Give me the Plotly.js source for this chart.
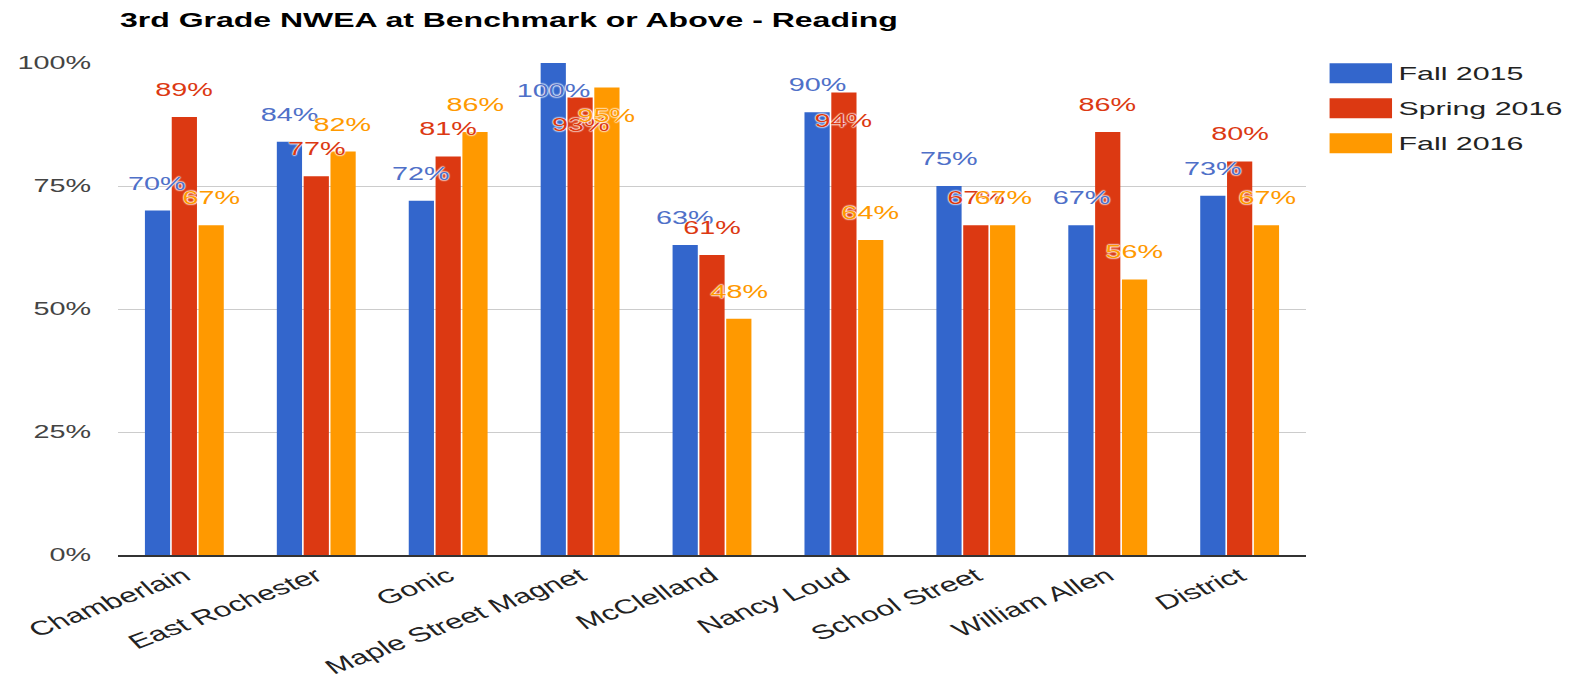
<!DOCTYPE html>
<html>
<head>
<meta charset="utf-8">
<script src="https://cdn.plot.ly/plotly-3.0.1.min.js"></script>
<style>
  html, body { margin: 0; padding: 0; background: #fff; overflow: hidden; }
  #wrap { width: 1581px; height: 688px; overflow: hidden; }
  /* the reference image is horizontally stretched; reproduce that */
  #chart { width: 988px; height: 688px; transform: scaleX(1.6); transform-origin: 0 0; }
</style>
</head>
<body>
<div id="wrap"><div id="chart"></div></div>
<script>
const categories = ['Chamberlain', 'East Rochester', 'Gonic', 'Maple Street Magnet', 'McClelland',
                    'Nancy Loud', 'School Street', 'William Allen', 'District'];
const seriesNames = ['Fall 2015', 'Spring 2016', 'Fall 2016'];
const fall2015   = [0.70, 0.84, 0.72, 1.00, 0.63, 0.90, 0.75, 0.67, 0.73];
const spring2016 = [0.89, 0.77, 0.81, 0.93, 0.61, 0.94, 0.67, 0.86, 0.80];
const fall2016   = [0.67, 0.82, 0.86, 0.95, 0.48, 0.64, 0.67, 0.56, 0.67];
const yTickVals = [0, 0.25, 0.5, 0.75, 1];
const yTickText = ['0%', '25%', '50%', '75%', '100%'];
const titleText = '3rd Grade NWEA at Benchmark or Above - Reading';

const seriesValues = [fall2015, spring2016, fall2016];
const colors = ['#3366cc', '#dc3912', '#ff9900'];
const labelColors = ['#4f70c8', '#dc3912', '#ff9900'];
const FONT = 'Liberation Sans, Arial, sans-serif';

const W = 988, H = 688;
const margin = {l: 74, r: 172, t: 63, b: 133};
const bargap = 0.39, bargroupgap = 0.06;
const plotW = W - margin.l - margin.r;
const plotH = H - margin.t - margin.b;
const slot = (plotW / categories.length) * (1 - bargap) / seriesNames.length;
const labelAbove = 27;   // px from bar top to label centre when above
const labelInside = -28; // px when there is no room above the bar

const traces = seriesValues.map((vals, s) => ({
  type: 'bar',
  name: seriesNames[s],
  x: categories,
  y: vals,
  marker: {color: colors[s], line: {width: 0}},
  hoverinfo: 'none',
  showlegend: false
}));

const annotations = [];
seriesValues.forEach((vals, s) => {
  vals.forEach((v, i) => {
    const room = (1 - v) * plotH;
    annotations.push({
      x: categories[i], y: v, xref: 'x', yref: 'y',
      text: Math.round(v * 100) + '%',
      showarrow: false, yanchor: 'middle', xanchor: 'center',
      xshift: (s - 1) * slot, yshift: room < 36 ? labelInside : labelAbove,
      font: {family: FONT, size: 18, color: labelColors[s],
             shadow: '0px 0px 2px #fff, 0px 0px 2px #fff, 0px 0px 2px #fff, 0px 0px 1px #fff'}
    });
  });
});

// custom legend (large swatches as in the reference)
const shapes = [];
const legX0 = 1.0202, legX1 = 1.0728, legTextX = 1.075;
const legRows = [0.979, 0.908, 0.837];
const swH = 0.0406;
seriesNames.forEach((n, s) => {
  shapes.push({type: 'rect', xref: 'paper', yref: 'paper',
    x0: legX0, x1: legX1, y0: legRows[s] - swH / 2, y1: legRows[s] + swH / 2,
    fillcolor: colors[s], line: {width: 0}});
  annotations.push({xref: 'paper', yref: 'paper', x: legTextX, y: legRows[s],
    xanchor: 'left', yanchor: 'middle', showarrow: false, text: n,
    font: {family: FONT, size: 19, color: '#222'}});
});

const layout = {
  width: W, height: H,
  margin: margin,
  paper_bgcolor: '#fff', plot_bgcolor: '#fff',
  title: {text: '<b>' + titleText + '</b>', xref: 'container', x: 75 / W, xanchor: 'left',
          yref: 'container', y: 1 - 20 / H, yanchor: 'middle',
          font: {family: FONT, size: 20, color: '#000'}},
  barmode: 'group', bargap: bargap, bargroupgap: bargroupgap,
  xaxis: {type: 'category', tickangle: -31, showgrid: false, zeroline: false,
          showline: true, linecolor: '#333', linewidth: 1.5, ticks: '',
          tickfont: {family: FONT, size: 20, color: '#222'}},
  yaxis: {range: [0, 1], tickvals: yTickVals, ticktext: yTickText, showgrid: true,
          gridcolor: '#cccccc', gridwidth: 1, zeroline: false, showline: false, ticks: '',
          ticklabelstandoff: 16, tickfont: {family: FONT, size: 18, color: '#444'}},
  showlegend: false,
  shapes: shapes,
  annotations: annotations
};

Plotly.newPlot('chart', traces, layout, {displayModeBar: false, staticPlot: true});
</script>
</body>
</html>
